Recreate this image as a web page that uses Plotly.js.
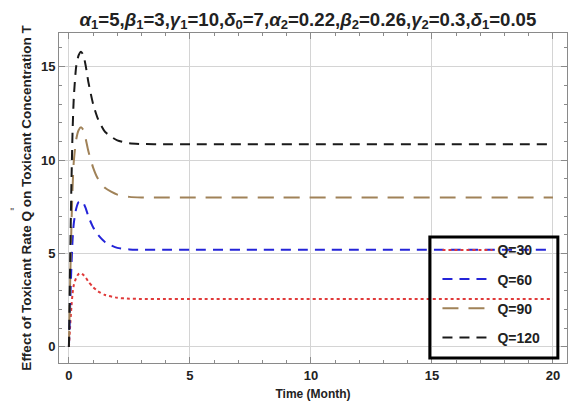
<!DOCTYPE html>
<html>
<head>
<meta charset="utf-8">
<script src="https://cdn.plot.ly/plotly-3.0.1.min.js"></script>
<style>html,body{margin:0;padding:0;background:#fff;}#chart{width:587px;height:406px;}</style>
</head>
<body>
<div id="chart"></div>
<script>
// Time (months)
var time = [0, 0.05, 0.1, 0.15, 0.2, 0.3, 0.4, 0.5, 0.6, 0.7, 0.8, 1.0, 1.2, 1.5, 2, 2.5, 3, 4, 5, 20];
// Toxicant concentration T for each toxicant rate Q
var q30  = [0, 1.1, 2.1, 2.85, 3.3, 3.7, 3.9, 3.95, 3.85, 3.7, 3.5, 3.2, 2.98, 2.78, 2.63, 2.58, 2.57, 2.56, 2.56, 2.56];
var q60  = [0, 2.2, 4.2, 5.7, 6.6, 7.4, 7.75, 7.8, 7.7, 7.4, 7.0, 6.4, 6.0, 5.6, 5.3, 5.22, 5.2, 5.2, 5.2, 5.2];
var q90  = [0, 3.4, 6.3, 8.5, 9.9, 11.1, 11.6, 11.75, 11.6, 11.1, 10.5, 9.6, 9.0, 8.5, 8.15, 8.03, 8.0, 8.0, 8.0, 8.0];
var q120 = [0, 4.5, 8.5, 11.5, 13.3, 15.0, 15.6, 15.8, 15.6, 15.0, 14.2, 13.0, 12.2, 11.5, 11.05, 10.9, 10.86, 10.85, 10.85, 10.85];
var seriesNames = ["Q=30", "Q=60", "Q=90", "Q=120"];
var seriesColors = ["#e03a3a", "#2424d8", "#a08258", "#1a1a1a"];
var seriesDash = ["3px,3px", "10px,7px", "16px,10px", "10px,7px"];
var xTicks = [0, 5, 10, 15, 20];
var yTicks = [0, 5, 10, 15];

var allY = [q30, q60, q90, q120];
var traces = allY.map(function (y, i) {
  return {
    x: time, y: y, type: "scatter", mode: "lines",
    name: seriesNames[i], legendgroup: "g" + i,
    line: { color: seriesColors[i], width: 2, dash: seriesDash[i], shape: "spline", smoothing: 0.6 }
  };
});

var fam = "Liberation Sans, Arial, sans-serif";
var font = { family: fam, color: "#222", weight: "bold" };

var layout = {
  width: 587, height: 406,
  margin: { l: 59, r: 20, t: 33, b: 43 },
  paper_bgcolor: "#fff", plot_bgcolor: "#fff",
  font: font,
  showlegend: true,
  title: {
    text: "<i>α</i><sub>1</sub>=5,<i>β</i><sub>1</sub>=3,<i>γ</i><sub>1</sub>=10,<i>δ</i><sub>0</sub>=7,<i>α</i><sub>2</sub>=0.22,<i>β</i><sub>2</sub>=0.26,<i>γ</i><sub>2</sub>=0.3,<i>δ</i><sub>1</sub>=0.05",
    font: { family: fam, size: 18.6, color: "#222", weight: "bold" },
    x: 0.49, xref: "paper", xanchor: "center", y: 0.953, yanchor: "middle"
  },
  xaxis: {
    range: [-0.41, 20.58], tickvals: xTicks, ticktext: xTicks.map(String),
    showgrid: true, gridcolor: "#d4d4d4", gridwidth: 1, zeroline: false,
    showline: true, linecolor: "#8a8a8a", linewidth: 1, mirror: "allticks",
    ticks: "inside", ticklen: 6, tickcolor: "#8a8a8a",
    minor: { dtick: 1, tick0: 0, ticks: "inside", ticklen: 3, tickcolor: "#8a8a8a", showgrid: false },
    tickfont: { family: fam, size: 13, color: "#222", weight: "bold" },
    title: { text: "Time (Month)", font: { family: fam, size: 12, color: "#222", weight: "bold" }, standoff: 8 }
  },
  yaxis: {
    range: [-0.86, 16.8], tickvals: yTicks, ticktext: yTicks.map(String),
    showgrid: true, gridcolor: "#d4d4d4", gridwidth: 1, zeroline: false,
    showline: true, linecolor: "#8a8a8a", linewidth: 1, mirror: "allticks",
    ticks: "inside", ticklen: 6, tickcolor: "#8a8a8a",
    minor: { dtick: 1, tick0: 0, ticks: "inside", ticklen: 3, tickcolor: "#8a8a8a", showgrid: false },
    tickfont: { family: fam, size: 13, color: "#222", weight: "bold" },
    title: { text: "Effect of Toxicant Rate Q on Toxicant Concentration T", font: { family: fam, size: 13.5, color: "#222", weight: "bold" }, standoff: 6 }
  },
  legend: {
    x: 0.745, xanchor: "left", y: 0.39, yanchor: "top",
    bgcolor: "rgba(0,0,0,0)", borderwidth: 0,
    font: { family: fam, size: 14, color: "#222", weight: "bold" },
    traceorder: "grouped", tracegroupgap: 8, itemwidth: 50
  },
  shapes: [{
    type: "rect", xref: "paper", yref: "paper",
    x0: 0.730, x1: 0.982, y0: 0.015, y1: 0.382,
    line: { color: "#000", width: 3 }, fillcolor: "rgba(0,0,0,0)", layer: "above"
  }],
  annotations: [{
    text: "\"", xref: "paper", yref: "paper", x: -0.1, y: 0.46, showarrow: false,
    font: { family: fam, size: 9, color: "#666" }
  }]
};

Plotly.newPlot("chart", traces, layout, { displayModeBar: false, responsive: false });
</script>
</body>
</html>
